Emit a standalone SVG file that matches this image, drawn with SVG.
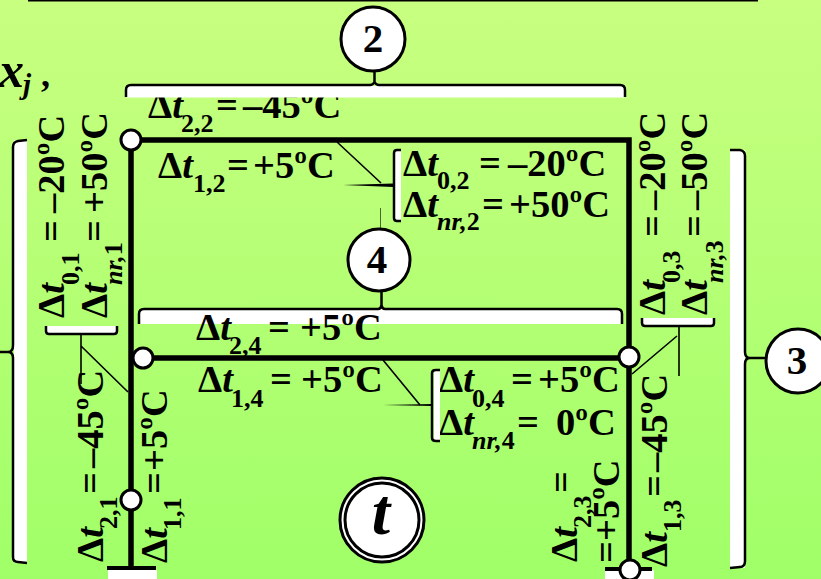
<svg xmlns="http://www.w3.org/2000/svg" width="821" height="579" viewBox="0 0 821 579">
<defs>
<linearGradient id="bg" x1="0" y1="0" x2="0" y2="1"><stop offset="0" stop-color="#c8ff80"/><stop offset="1" stop-color="#a0ff68"/></linearGradient>
</defs>
<style>
text{font-family:"Liberation Serif","Times New Roman",serif;font-weight:bold;font-size:38.500px;fill:#000}
.i{font-style:italic}
.s{font-size:26px}
.n{font-size:41px;text-anchor:middle}
.f{fill:none;stroke:#000;stroke-width:5.500}
.b{fill:none;stroke:#000;stroke-width:2.500}
.w{fill:#fff;stroke:none}
.t{fill:none;stroke:#000;stroke-width:1.600}
.c{fill:#fff;stroke:#000;stroke-width:3}
</style>
<rect width="821" height="579" fill="url(#bg)"/>
<line x1="28" y1="0.500" x2="758" y2="0.500" stroke="#000" stroke-width="2"/>
<text x="-1" y="87" class="i" style="font-size:50px">x</text><text x="23" y="94" class="i s" style="font-size:29px">j</text><text x="41" y="86" style="font-size:36px">,</text>

<g id="labels">
<text transform="translate(148,118)">Δ<tspan class="i">t</tspan><tspan class="s" x="33" y="14">2,2</tspan><tspan x="68" y="0">=</tspan><tspan x="95" y="0">–45ºC</tspan></text>
<text transform="translate(158,177.500)">Δ<tspan class="i">t</tspan><tspan class="s" x="35" y="14">1,2</tspan><tspan x="69" y="0">=</tspan><tspan x="95" y="0">+5ºC</tspan></text>
<text transform="translate(198,391.500)">Δ<tspan class="i">t</tspan><tspan class="s" x="33" y="15">1,4</tspan><tspan x="72" y="0">=</tspan><tspan x="103" y="0">+5ºC</tspan></text>

<text transform="translate(63.500,318) rotate(-90)">Δ<tspan class="i">t</tspan><tspan class="s" x="33" y="15">0,1</tspan><tspan x="76" y="0">=</tspan><tspan x="105" y="0">–20ºC</tspan></text>
<text transform="translate(106.500,318) rotate(-90)">Δ<tspan class="i">t</tspan><tspan class="s i" x="33" y="15">nr,</tspan><tspan class="s" y="15">1</tspan><tspan x="76" y="0">=</tspan><tspan x="105" y="0">+50ºC</tspan></text>
<text transform="translate(102.500,562) rotate(-90)">Δ<tspan class="i">t</tspan><tspan class="s" x="33" y="14">2,1</tspan><tspan x="68" y="0">=</tspan><tspan x="94" y="0">–45ºC</tspan></text>
<text transform="translate(166.500,563) rotate(-90)">Δ<tspan class="i">t</tspan><tspan class="s" x="33" y="14">1,1</tspan><tspan x="69" y="0">=</tspan><tspan x="92" y="0">+5ºC</tspan></text>
</g>
<g id="labels-right">
<text transform="translate(403,175.500)">Δ<tspan class="i">t</tspan><tspan class="s" x="34" y="13">0,2</tspan><tspan x="76" y="0">=</tspan><tspan x="105" y="0">–20ºC</tspan></text>
<text transform="translate(403,216.500)">Δ<tspan class="i">t</tspan><tspan class="s i" x="34" y="13">nr,</tspan><tspan class="s" y="13">2</tspan><tspan x="79" y="0">=</tspan><tspan x="106" y="0">+50ºC</tspan></text>
<text transform="translate(439,391.500)">Δ<tspan class="i">t</tspan><tspan class="s" x="33" y="15">0,4</tspan><tspan x="72" y="0">=</tspan><tspan x="99" y="0">+5ºC</tspan></text>
<text transform="translate(439,434.500)">Δ<tspan class="i">t</tspan><tspan class="s i" x="33" y="14">nr,</tspan><tspan class="s" y="14">4</tspan><tspan x="78" y="0">=</tspan><tspan x="117" y="0">0ºC</tspan></text>

<text transform="translate(664.500,315) rotate(-90)">Δ<tspan class="i">t</tspan><tspan class="s" x="32" y="15">0,3</tspan><tspan x="78" y="0">=</tspan><tspan x="105" y="0">–20ºC</tspan></text>
<text transform="translate(706.500,315) rotate(-90)">Δ<tspan class="i">t</tspan><tspan class="s i" x="32" y="16">nr,</tspan><tspan class="s" y="16">3</tspan><tspan x="78" y="0">=</tspan><tspan x="105" y="0">–50ºC</tspan></text>
<text transform="translate(577,562) rotate(-90)">Δ<tspan class="i">t</tspan><tspan class="s" x="34" y="14">2,3</tspan></text>
<text transform="translate(574,493) rotate(-90)">=</text>
<text transform="translate(619,563) rotate(-90)">=+5ºC</text>
<text transform="translate(666.500,567) rotate(-90)">Δ<tspan class="i">t</tspan><tspan class="s" x="35" y="14">1,3</tspan><tspan x="70" y="0">=</tspan><tspan x="95" y="0">–45ºC</tspan></text>
</g>

<g id="connectors">
<path class="f" d="M131 568V140H629V570M143 358H629"/>
<rect class="w" x="108" y="570" width="49" height="9"/><line x1="107" y1="568" x2="156" y2="568" stroke="#000" stroke-width="4"/>
<rect class="w" x="605" y="570" width="49" height="9"/><line x1="605" y1="569" x2="652" y2="569" stroke="#000" stroke-width="4"/>

<rect class="w" x="127" y="86" width="497" height="11.500"/>
<path class="b" d="M126 97V90Q126 85 131 85H370Q373 85 374.500 82Q376 85 379 85H620Q625 85 625 90V97M374.500 82V71"/>
<rect class="w" x="140" y="309" width="482" height="15"/>
<path class="b" d="M139 324V314Q139 309 144 309H378Q381 309 381.500 305Q382 309 385 309H617Q622 309 622 314V324M381.500 305V291"/>
<rect class="w" x="14" y="140" width="13" height="423"/>
<path class="b" d="M27 140L18 141Q13 142 13 147V345Q13 352 8 352H0M8 352Q13 352 13 358V557Q13 562 18 562L27 563"/>
<rect class="w" x="730" y="150" width="15" height="418"/>
<path class="b" d="M730 150L740 150Q745 151 745 156V352Q745 358 750 358H766M750 358Q745 358 745 364V561Q745 567 740 567L730 568"/>

<rect class="w" x="47" y="326" width="70" height="7"/>
<path class="b" d="M46 326V331Q46 334 49 334H114Q117 334 117 331V326"/>
<path class="t" d="M81 334V384M81 346L128 392"/>
<rect class="w" x="643" y="318" width="70" height="7"/>
<path class="b" d="M642 318V323Q642 326 645 326H711Q714 326 714 323V318"/>
<path class="t" d="M679 326V376M677 336L632 374"/>

<rect class="w" x="395" y="151" width="6" height="70"/>
<path class="b" d="M401 150H397Q394 150 394 153V218Q394 221 397 221H401"/>
<path class="t" d="M337 142L381 183"/>
<line x1="380.500" y1="208" x2="380.500" y2="229" stroke="#000" stroke-width="0.600"/>
<polygon points="343,185 393,183.500 393,187" fill="#000"/>
<rect class="w" x="434" y="371" width="6" height="70"/>
<path class="b" d="M440 370H436Q432 370 432 373V438Q432 441 436 441H440"/>
<path class="t" d="M383 360L420 405"/>
<polygon points="383,405 432,404 432,406" fill="#000"/>
</g>

<text id="label-2-4" transform="translate(196,339.500)">Δ<tspan class="i">t</tspan><tspan class="s" x="33" y="14">2,4</tspan><tspan x="72" y="0">=</tspan><tspan x="104" y="0">+5ºC</tspan></text>

<g id="node-a"><circle class="c" cx="131" cy="140" r="10"/></g>
<g id="node-b"><circle class="c" cx="143" cy="358" r="10"/></g>
<g id="node-c"><circle class="c" cx="131" cy="500" r="10"/></g>
<g id="node-d"><circle class="c" cx="629" cy="357" r="10"/></g>
<g id="node-e"><circle class="c" cx="630" cy="570" r="10"/></g>
<g id="node-2"><circle class="c" cx="373" cy="39" r="32"/><text class="n" x="373" y="52">2</text></g>
<g id="node-4"><circle class="c" cx="379" cy="260" r="31"/><text class="n" x="377" y="273">4</text></g>
<g id="node-3"><circle class="c" cx="798" cy="361" r="32"/><text class="n" x="797" y="374">3</text></g>
<g id="node-t"><circle class="c" cx="382" cy="520" r="42"/><circle class="c" cx="382" cy="520" r="37"/><text class="n i" x="381" y="534" style="font-size:66px">t</text></g>
</svg>
